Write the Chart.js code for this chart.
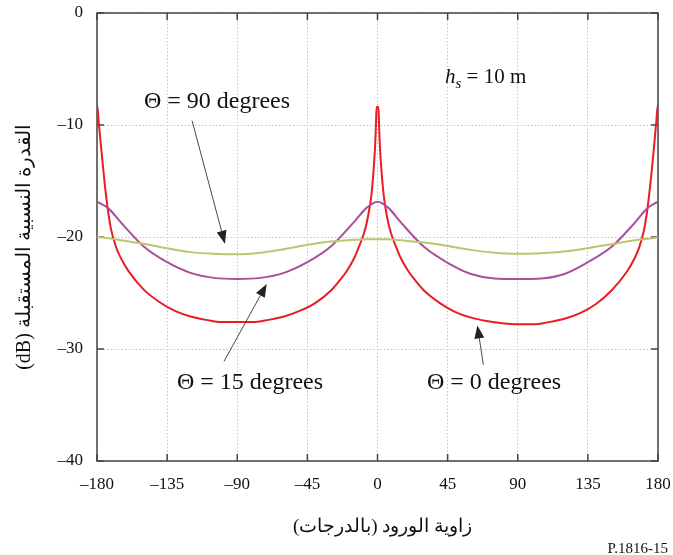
<!DOCTYPE html>
<html>
<head>
<meta charset="utf-8">
<script src="https://cdn.jsdelivr.net/npm/chart.js@4.4.0/dist/chart.umd.min.js"></script>
<style>
html, body { margin: 0; padding: 0; background: #fff; }
#wrap { width: 673px; height: 555px; }
</style>
</head>
<body>
<div id="wrap"><canvas id="myChart" width="673" height="555"></canvas></div>
<script>
// angoli (gradi) e potenza relativa (dB)
const redAngles = [-180, -179.4, -179, -178.5, -177.5, -176.3, -175, -173, -171, -168,
  -165, -160, -150, -140, -130, -120, -110, -100, -90, -80,
  -70, -60, -50, -40, -30, -25, -20, -15, -12, -9,
  -7, -5, -3.7, -2.3, -1.5, -1, -0.6, 0,
  0.6, 1, 1.5, 2.3, 3.7, 5, 7, 9, 12, 15,
  20, 25, 30, 40, 50, 60, 70, 80, 90, 100,
  110, 120, 130, 140, 150, 160, 165, 168, 171, 173,
  175, 176.3, 177.5, 178.5, 179, 179.4, 180];
const redDb = [-8.2, -8.8, -9.6, -10.3, -11.8, -13.5, -15.3, -17.6, -19.3, -20.8,
  -21.8, -23.0, -24.7, -25.8, -26.6, -27.1, -27.4, -27.6, -27.6, -27.6,
  -27.4, -27.1, -26.6, -25.9, -24.8, -24.0, -23.1, -21.9, -20.9, -19.8,
  -18.8, -17.3, -16.0, -13.6, -11.8, -10.0, -8.4, -8.4,
  -8.4, -10.0, -11.8, -13.6, -15.9, -17.3, -18.8, -19.8, -20.9, -21.9,
  -23.1, -24.0, -24.8, -25.9, -26.7, -27.2, -27.5, -27.7, -27.8, -27.8,
  -27.6, -27.3, -26.8, -26.0, -24.8, -23.1, -21.9, -20.9, -19.4, -17.7,
  -15.4, -13.6, -11.9, -10.3, -9.6, -8.8, -8.2];

const smoothAngles = [-180, -173, -165, -150, -135, -120, -105, -90, -75, -60, -45, -30, -15, -7, 0,
  7, 15, 30, 45, 60, 75, 90, 105, 120, 135, 150, 165, 173, 180];
const purpleDb = [-16.85, -17.4, -18.65, -20.85, -22.25, -23.2, -23.65, -23.75, -23.65, -23.2, -22.25, -20.85, -18.65, -17.4, -16.85,
  -17.4, -18.7, -20.9, -22.3, -23.3, -23.7, -23.75, -23.7, -23.3, -22.25, -20.9, -18.75, -17.45, -16.85];
const greenDb = [-20.0, -20.1, -20.3, -20.6, -21.0, -21.35, -21.5, -21.55, -21.4, -21.1, -20.7, -20.4, -20.25, -20.2, -20.2,
  -20.2, -20.3, -20.5, -20.8, -21.15, -21.4, -21.5, -21.45, -21.3, -21.0, -20.65, -20.3, -20.15, -20.05];

const xTicks = [-180, -135, -90, -45, 0, 45, 90, 135, 180];
const yTicks = [-40, -30, -20, -10, 0];

const xTitle = 'زاوية الورود (بالدرجات)';
const yTitle = 'القدرة النسبية المستقبلة (dB)';
const figRef = 'P.1816-15';

// etichette con freccia: testo in (tx, ty), freccia da (ax, ay) a (bx, by), in coordinate dati
const labels = [
  { text: 'Θ = 90 degrees', tx: -103, ty: -7.9, ax: -119, ay: -9.6, bx: -97.9, by: -20.6 },
  { text: 'Θ = 15 degrees', tx: -81.8, ty: -33.0, ax: -98.5, ay: -31.1, bx: -71.1, by: -24.2 },
  { text: 'Θ = 0 degrees', tx: 74.8, ty: -33.0, ax: 67.9, ay: -31.4, bx: 64.1, by: -27.9 }
];

const serif = "'Liberation Serif', 'Times New Roman', 'DejaVu Serif', serif";

function toPoints(xs, ys) {
  return xs.map((x, i) => ({ x: x, y: ys[i] }));
}

function fmt(v) {
  return v < 0 ? '\u2013' + Math.abs(v) : String(v);
}

function arrow(ctx, x1, y1, x2, y2) {
  const ang = Math.atan2(y2 - y1, x2 - x1);
  const len = 13, half = 5;
  const bx = x2 - len * Math.cos(ang), by = y2 - len * Math.sin(ang);
  ctx.strokeStyle = '#333';
  ctx.lineWidth = 0.9;
  ctx.beginPath();
  ctx.moveTo(x1, y1);
  ctx.lineTo(bx, by);
  ctx.stroke();
  ctx.fillStyle = '#222';
  ctx.beginPath();
  ctx.moveTo(x2, y2);
  ctx.lineTo(bx + half * Math.sin(ang), by - half * Math.cos(ang));
  ctx.lineTo(bx - half * Math.sin(ang), by + half * Math.cos(ang));
  ctx.closePath();
  ctx.fill();
}

// cornice, tacche interne e testi
const extras = {
  id: 'extras',
  beforeDatasetsDraw(chart) {
    const { ctx, chartArea: a, scales: { x, y } } = chart;
    ctx.save();
    ctx.strokeStyle = '#444';
    ctx.lineWidth = 1.5;
    ctx.strokeRect(a.left, a.top, a.right - a.left, a.bottom - a.top);
    ctx.beginPath();
    xTicks.forEach(v => {
      const px = x.getPixelForValue(v);
      ctx.moveTo(px, a.bottom); ctx.lineTo(px, a.bottom - 7);
      ctx.moveTo(px, a.top); ctx.lineTo(px, a.top + 7);
    });
    yTicks.forEach(v => {
      const py = y.getPixelForValue(v);
      ctx.moveTo(a.left, py); ctx.lineTo(a.left + 7, py);
      ctx.moveTo(a.right, py); ctx.lineTo(a.right - 7, py);
    });
    ctx.stroke();
    ctx.restore();
  },
  afterDraw(chart) {
    const { ctx, chartArea: a, scales: { x, y } } = chart;
    ctx.save();
    ctx.fillStyle = '#111';
    ctx.textBaseline = 'middle';
    ctx.textAlign = 'center';
    ctx.font = '24px ' + serif;
    labels.forEach(l => {
      ctx.fillStyle = '#111';
      ctx.fillText(l.text, x.getPixelForValue(l.tx), y.getPixelForValue(l.ty));
      arrow(ctx, x.getPixelForValue(l.ax), y.getPixelForValue(l.ay),
        x.getPixelForValue(l.bx), y.getPixelForValue(l.by));
    });

    // h_s = 10 m
    ctx.fillStyle = '#111';
    ctx.textAlign = 'left';
    ctx.textBaseline = 'alphabetic';
    let hx = x.getPixelForValue(43.3);
    const hy = y.getPixelForValue(-6.25);
    ctx.font = 'italic 21px ' + serif;
    ctx.fillText('h', hx, hy);
    hx += ctx.measureText('h').width;
    ctx.font = 'italic 15px ' + serif;
    ctx.fillText('s', hx, hy + 5);
    hx += ctx.measureText('s').width;
    ctx.font = '21px ' + serif;
    ctx.fillText(' = 10 m', hx, hy);

    // titoli degli assi
    ctx.direction = 'rtl';
    ctx.textAlign = 'center';
    ctx.textBaseline = 'middle';
    ctx.font = '19px ' + serif;
    ctx.fillText(xTitle, (a.left + a.right) / 2 + 5, 527);
    ctx.save();
    ctx.translate(25, 247);
    ctx.rotate(-Math.PI / 2);
    ctx.font = '20px ' + serif;
    ctx.fillText(yTitle, 0, 0);
    ctx.restore();

    ctx.direction = 'ltr';
    ctx.textAlign = 'right';
    ctx.textBaseline = 'alphabetic';
    ctx.font = '15px ' + serif;
    ctx.fillText(figRef, 668, 553);
    ctx.restore();
  }
};

const lineStyle = {
  fill: false,
  pointRadius: 0,
  borderWidth: 2,
  cubicInterpolationMode: 'monotone'
};

const ctx = document.getElementById('myChart').getContext('2d');
const chart = new Chart(ctx, {
  type: 'line',
  data: {
    datasets: [
      Object.assign({ label: 'Θ = 90', data: toPoints(smoothAngles, greenDb), borderColor: '#bcc56f' }, lineStyle),
      Object.assign({ label: 'Θ = 15', data: toPoints(smoothAngles, purpleDb), borderColor: '#a8509b' }, lineStyle),
      Object.assign({ label: 'Θ = 0', data: toPoints(redAngles, redDb), borderColor: '#ea1c24' }, lineStyle)
    ]
  },
  options: {
    responsive: false,
    animation: false,
    devicePixelRatio: 1,
    layout: { padding: { top: 13, right: 15, left: 0, bottom: 0 } },
    plugins: {
      legend: { display: false },
      tooltip: { enabled: false }
    },
    scales: {
      x: {
        type: 'linear',
        min: -180,
        max: 180,
        afterBuildTicks: s => { s.ticks = xTicks.map(v => ({ value: v })); },
        afterFit: s => { s.height = 94; s.paddingLeft = 0; s.paddingRight = 0; },
        ticks: {
          callback: fmt,
          color: '#111',
          padding: 13,
          maxRotation: 0,
          font: { family: serif, size: 17 }
        },
        grid: { color: '#c4c4c4', lineWidth: 1, drawTicks: false },
        border: { display: false, dash: [1.5, 2] }
      },
      y: {
        min: -40,
        max: 0,
        afterBuildTicks: s => { s.ticks = yTicks.map(v => ({ value: v })); },
        afterFit: s => { s.width = 97; s.paddingTop = 0; s.paddingBottom = 0; },
        ticks: {
          callback: fmt,
          color: '#111',
          padding: 14,
          font: { family: serif, size: 17 }
        },
        grid: { color: '#c4c4c4', lineWidth: 1, drawTicks: false },
        border: { display: false, dash: [1.5, 2] }
      }
    }
  },
  plugins: [extras]
});
</script>
</body>
</html>
